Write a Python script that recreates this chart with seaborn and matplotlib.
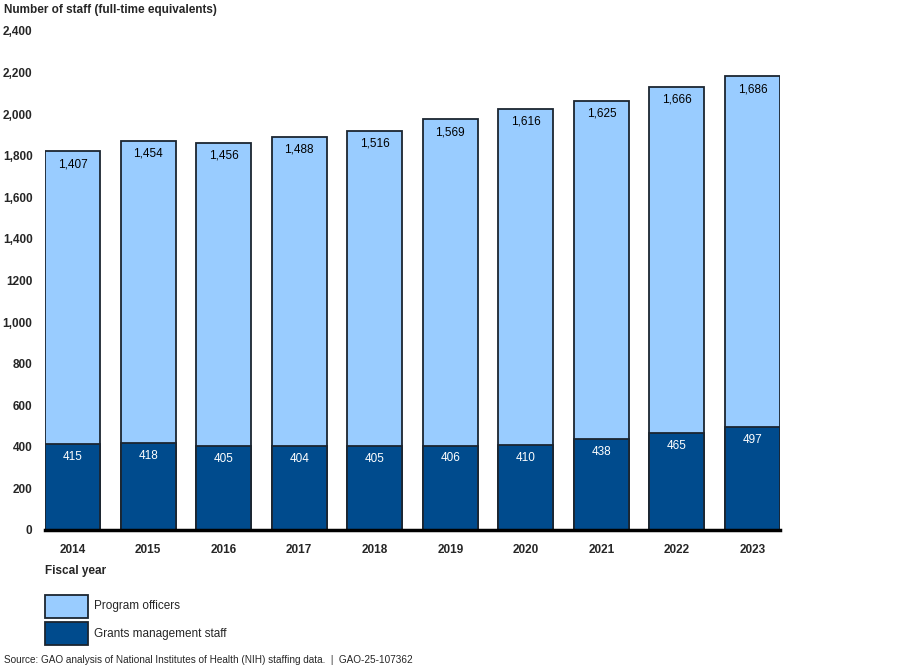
import matplotlib
matplotlib.use("Agg")
import matplotlib.pyplot as plt
import seaborn as sns
import pandas as pd
from matplotlib.patches import Rectangle

# Data
years = ["2014", "2015", "2016", "2017", "2018", "2019", "2020", "2021", "2022", "2023"]
program_officers = [1407, 1454, 1456, 1488, 1516, 1569, 1616, 1625, 1666, 1686]
grants_staff = [415, 418, 405, 404, 405, 406, 410, 438, 465, 497]
ytick_values = [0, 200, 400, 600, 800, 1000, 1200, 1400, 1600, 1800, 2000, 2200, 2400]
ytick_labels = ["0", "200", "400", "600", "800", "1,000", "1200", "1,400",
                "1,600", "1,800", "2,000", "2,200", "2,400"]

light = "#99ccff"
dark = "#004b8d"
edge = "#1b2530"

df = pd.DataFrame({"year": years, "program": program_officers, "grants": grants_staff})
df["total"] = df["program"] + df["grants"]

sns.set_style("white")
plt.rcParams["font.family"] = ["Liberation Sans", "DejaVu Sans"]

fig = plt.figure(figsize=(9, 6.68), dpi=100)
ax = fig.add_axes([0.05, 0.2066, 0.8167, 0.747])

# stacked bars: totals in light blue, grants staff drawn over them in dark blue
sns.barplot(data=df, x="year", y="total", color=light, saturation=1, width=0.73,
            edgecolor=edge, linewidth=1.3, ax=ax)
sns.barplot(data=df, x="year", y="grants", color=dark, saturation=1, width=0.73,
            edgecolor=edge, linewidth=1.3, ax=ax)

# value labels
for i, row in df.iterrows():
    ax.text(i, row["total"] - 62, f"{row['program']:,}", ha="center", va="center",
            fontsize=8.5, color="black")
    ax.text(i, row["grants"] - 62, f"{row['grants']:,}", ha="center", va="center",
            fontsize=8.5, color="white")

ax.set_xlim(-0.365, len(years) - 1 + 0.365)
ax.set_ylim(0, 2400)
ax.set_yticks(ytick_values)
ax.set_yticklabels(ytick_labels, fontweight="bold", fontsize=8.5)
ax.set_xticks(range(len(years)))
ax.set_xticklabels(years, fontweight="bold", fontsize=8.5)
ax.tick_params(axis="both", length=0)
ax.tick_params(axis="y", pad=9)
ax.tick_params(axis="x", pad=10)
ax.set_xlabel("")
ax.set_ylabel("")

for s in ["left", "right", "top"]:
    ax.spines[s].set_visible(False)
ax.spines["bottom"].set_linewidth(2.5)
ax.spines["bottom"].set_color("black")

fig.text(0.004, 0.985, "Number of staff (full-time equivalents)", fontweight="bold",
         fontsize=8.5, va="center", ha="left")
fig.text(0.05, 1 - 571 / 668, "Fiscal year", fontweight="bold", fontsize=8.5,
         va="center", ha="left")

# legend
legend_items = [("Program officers", light), ("Grants management staff", dark)]
for k, (lab, col) in enumerate(legend_items):
    y0 = 1 - (618 + k * 27) / 668
    fig.patches.append(Rectangle((0.05, y0), 43 / 900, 23 / 668, transform=fig.transFigure,
                                 facecolor=col, edgecolor=edge, linewidth=1.3))
    fig.text(0.105, y0 + 11.5 / 668, lab, fontsize=8.5, va="center", ha="left")

fig.text(0.004, 1 - 660 / 668,
         "Source: GAO analysis of National Institutes of Health (NIH) staffing data.  |  GAO-25-107362",
         fontsize=7.2, va="center", ha="left")

fig.savefig("out.png", dpi=100)
